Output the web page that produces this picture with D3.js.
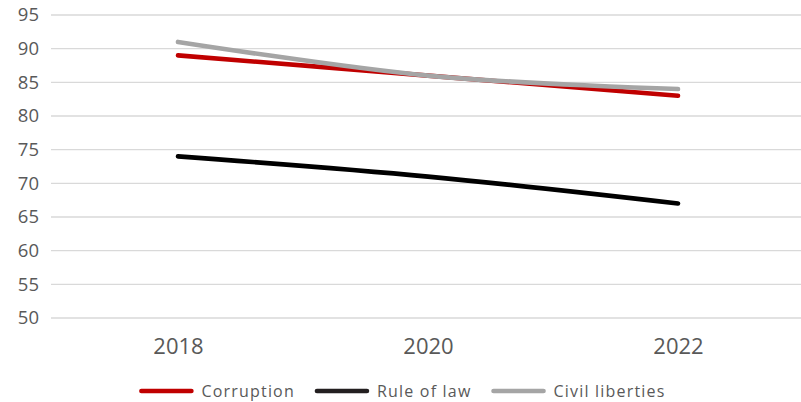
<!DOCTYPE html>
<html>
<head>
<meta charset="utf-8">
<script src="https://cdn.jsdelivr.net/npm/d3@7"></script>
<style>
  html, body { margin: 0; padding: 0; background: #fff; }
  svg { display: block; }
  text { font-family: "Open Sans", sans-serif; }
</style>
</head>
<body>
<svg id="chart" width="801" height="402"></svg>
<script>
const years = ["2018", "2020", "2022"];
const corruption = [89, 86, 83];
const ruleOfLaw = [74, 71, 67];
const civilLiberties = [91, 86, 84];
const yTicks = [50, 55, 60, 65, 70, 75, 80, 85, 90, 95];
const seriesNames = ["Corruption", "Rule of law", "Civil liberties"];
const seriesColors = ["#c00000", "#000000", "#a5a5a5"];
const legendColors = ["#c00000", "#231f20", "#a5a5a5"];

const series = [corruption, ruleOfLaw, civilLiberties].map((vals, i) => ({
  name: seriesNames[i], color: seriesColors[i],
  points: vals.map((v, j) => ({ year: years[j], value: v }))
}));

const svg = d3.select("#chart");
const x = d3.scalePoint().domain(years).range([53, 803]).padding(0.5);
const y = d3.scaleLinear().domain([50, 95]).range([318, 15]);

// gridlines
svg.append("g").selectAll("line").data(yTicks).join("line")
  .attr("x1", 51).attr("x2", 801)
  .attr("y1", d => y(d)).attr("y2", d => y(d))
  .attr("stroke", "#d9d9d9").attr("stroke-width", 1.3);

// y labels
const yAxis = d3.axisLeft(y).tickValues(yTicks).tickSize(0).tickPadding(0);
const yg = svg.append("g").attr("transform", "translate(39,0)").call(yAxis);
yg.select(".domain").remove();
yg.selectAll("text").attr("font-size", 18.5).attr("fill", "#595959")
  .attr("font-family", "'Open Sans', sans-serif");

// x labels
const xAxis = d3.axisBottom(x).tickSize(0).tickPadding(0);
const xg = svg.append("g").attr("transform", "translate(0,338)").call(xAxis);
xg.select(".domain").remove();
xg.selectAll("text").attr("font-size", 22).attr("fill", "#595959")
  .attr("font-family", "'Open Sans', sans-serif");

// lines
const line = d3.line().x(d => x(d.year)).y(d => y(d.value)).curve(d3.curveCatmullRom);
svg.append("g").selectAll("path").data(series).join("path")
  .attr("d", d => line(d.points))
  .attr("fill", "none").attr("stroke", d => d.color)
  .attr("stroke-width", 4.6).attr("stroke-linecap", "round").attr("stroke-linejoin", "round");

// legend
const lg = svg.append("g");
const items = lg.selectAll("g").data(seriesNames).join("g");
items.append("line").attr("x1", 0).attr("x2", 50).attr("y1", 0).attr("y2", 0)
  .attr("stroke", (d, i) => legendColors[i]).attr("stroke-width", 4.6).attr("stroke-linecap", "round");
items.append("text").attr("x", 60).attr("y", 6).attr("font-size", 16)
  .attr("letter-spacing", 1.2).attr("fill", "#595959").text(d => d);
let cx = 0;
const gap = 22;
items.each(function () {
  const w = 60 + d3.select(this).select("text").node().getComputedTextLength();
  d3.select(this).attr("transform", `translate(${cx},391)`);
  cx += w + gap;
});
const total = cx - gap;
lg.attr("transform", `translate(${403.5 - total / 2},0)`);
</script>
</body>
</html>
